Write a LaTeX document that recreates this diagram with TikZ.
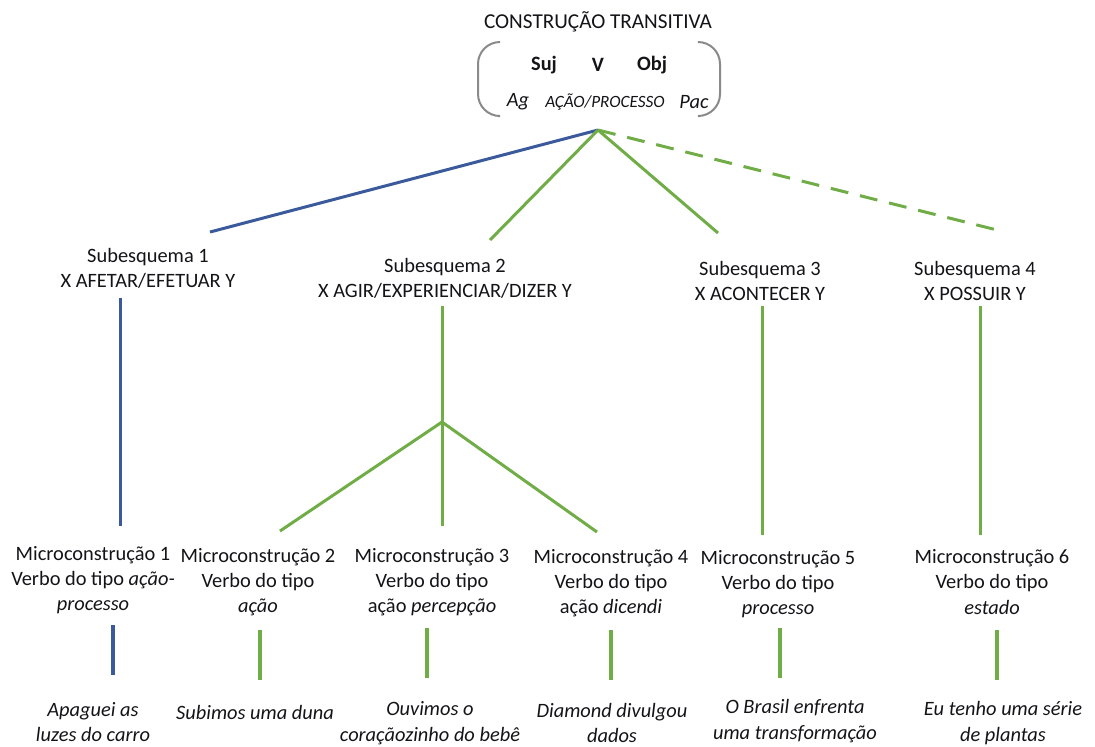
\documentclass[tikz,border=0pt]{standalone}
\usepackage{fontspec}
\setmainfont{Carlito}
\definecolor{linkblue}{HTML}{3A5A9C}
\definecolor{linkgreen}{HTML}{70AD47}
\definecolor{bracketgray}{HTML}{8A8A8A}
\definecolor{inkdark}{HTML}{141418}
\begin{document}
\begin{tikzpicture}[x=0.5pt,y=-0.5pt,
  lbl/.style={align=center,inner sep=0pt,text=inkdark,font=\fontsize{10.2}{12.6}\selectfont},
  ex/.style={lbl,font=\fontsize{10.2}{12.8}\selectfont\itshape},
  blueln/.style={draw=linkblue,line width=1.5pt},
  greenln/.style={draw=linkgreen,line width=1.5pt},
  greendash/.style={draw=linkgreen,line width=1.5pt,dash pattern=on 9pt off 6pt},
  stub/.style={line width=2pt}]
\useasboundingbox (0,0) rectangle (1095,746);
\clip (0,0) rectangle (1095,746);

% top construction
\node[lbl,font=\fontsize{10.6}{12.6}\selectfont] (title) at (598,22) {CONSTRUÇÃO TRANSITIVA};
\draw[bracketgray,line width=1pt,rounded corners=11pt] (498,42) -- (478,42) -- (478,116) -- (498,116);
\draw[bracketgray,line width=1pt,rounded corners=11pt] (700,42) -- (720,42) -- (720,116) -- (700,116);
\node[lbl,font=\fontsize{10.2}{12}\selectfont\bfseries] (suj) at (544,65) {Suj};
\node[lbl,font=\fontsize{10.2}{12}\selectfont\bfseries] (verb) at (598,65) {V};
\node[lbl,font=\fontsize{10.2}{12}\selectfont\bfseries] (obj) at (652,65) {Obj};
\node[lbl,font=\fontsize{10.2}{12}\selectfont\itshape] (ag) at (518,102) {Ag};
\node[lbl,font=\fontsize{8.6}{10}\selectfont\itshape] (acao) at (605,102) {AÇÃO/PROCESSO};
\node[lbl,font=\fontsize{10.2}{12}\selectfont\itshape] (pac) at (694,102) {Pac};
\coordinate (apex) at (598,130);

% subschemas
\node[lbl] (s1) at (148,268) {Subesquema 1\\X AFETAR/EFETUAR Y};
\node[lbl] (s2) at (445,278) {Subesquema 2\\X AGIR/EXPERIENCIAR/DIZER Y};
\node[lbl] (s3) at (760,281) {Subesquema 3\\X ACONTECER Y};
\node[lbl] (s4) at (975,281) {Subesquema 4\\X POSSUIR Y};

\coordinate (s1top) at (210,232);
\coordinate (s2top) at (490,240);
\coordinate (s3top) at (718,233);
\coordinate (s4top) at (1005,232);
\draw[blueln] (apex) -- (s1top);
\draw[greenln] (apex) -- (s2top);
\draw[greenln] (apex) -- (s3top);
\draw[greendash] (apex) -- (s4top);

% micro-constructions
\node[lbl] (m1) at (93,580) {Microconstrução 1\\Verbo do tipo \textit{ação-}\\\textit{processo}};
\node[lbl] (m2) at (258,582) {Microconstrução 2\\Verbo do tipo\\\textit{ação}};
\node[lbl] (m3) at (432,582) {Microconstrução 3\\Verbo do tipo\\ação \textit{percepção}};
\node[lbl] (m4) at (611,583) {Microconstrução 4\\Verbo do tipo\\ação \textit{dicendi}};
\node[lbl] (m5) at (778,584) {Microconstrução 5\\Verbo do tipo\\\textit{processo}};
\node[lbl] (m6) at (992,582) {Microconstrução 6\\Verbo do tipo\\\textit{estado}};

% branches from subschemas to micro-constructions
\coordinate (s1bot) at (120,298);
\coordinate (m1top) at (120,526);
\draw[blueln] (s1bot) -- (m1top);

\coordinate (s2bot) at (442,306);
\coordinate (fork) at (442,422);
\coordinate (m2top) at (280,531);
\coordinate (m3top) at (442,526);
\coordinate (m4top) at (597,532);
\draw[greenln] (s2bot) -- (fork);
\draw[greenln] (fork) -- (m2top);
\draw[greenln] (fork) -- (m3top);
\draw[greenln] (fork) -- (m4top);

\coordinate (s3bot) at (762,306);
\coordinate (m5top) at (762,535);
\draw[greenln] (s3bot) -- (m5top);
\coordinate (s4bot) at (980,306);
\coordinate (m6top) at (980,535);
\draw[greenln] (s4bot) -- (m6top);

% examples
\node[ex] (e1) at (93,722) {Apaguei as\\luzes do carro};
\node[ex] (e2) at (255,712) {Subimos uma duna};
\node[ex] (e3) at (430,723) {Ouvimos o\\coraçãozinho do bebê};
\node[ex] (e4) at (612,723) {Diamond divulgou\\dados};
\node[ex] (e5) at (795,721) {O Brasil enfrenta\\uma transformação};
\node[ex] (e6) at (1003,723) {Eu tenho uma série\\de plantas};

\coordinate (m1b) at (113,625); \coordinate (e1t) at (113,675);
\coordinate (m2b) at (260,630); \coordinate (e2t) at (260,680);
\coordinate (m3b) at (427,628); \coordinate (e3t) at (427,678);
\coordinate (m4b) at (611,630); \coordinate (e4t) at (611,680);
\coordinate (m5b) at (780,628); \coordinate (e5t) at (780,678);
\coordinate (m6b) at (997,630); \coordinate (e6t) at (997,680);
\draw[blueln,stub] (m1b) -- (e1t);
\draw[greenln,stub] (m2b) -- (e2t);
\draw[greenln,stub] (m3b) -- (e3t);
\draw[greenln,stub] (m4b) -- (e4t);
\draw[greenln,stub] (m5b) -- (e5t);
\draw[greenln,stub] (m6b) -- (e6t);
\end{tikzpicture}
\end{document}
